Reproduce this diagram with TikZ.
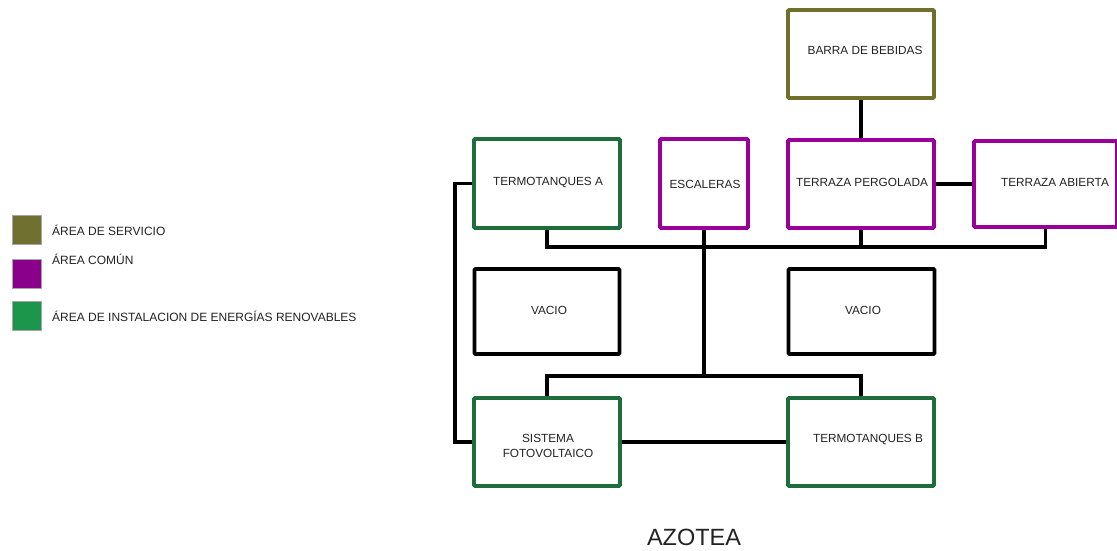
\documentclass[tikz,border=0pt]{standalone}
\usepackage{fontspec}
\setmainfont{Liberation Sans}
\definecolor{olivebox}{RGB}{112,112,45}
\definecolor{purplebox}{RGB}{153,0,153}
\definecolor{greenbox}{RGB}{30,110,60}
\definecolor{legolive}{RGB}{112,112,48}
\definecolor{legpurple}{RGB}{139,0,139}
\definecolor{leggreen}{RGB}{28,150,75}
\definecolor{txt}{RGB}{35,35,35}
\begin{document}
\begin{tikzpicture}[x=1pt,y=-1pt,
  area/.style={draw, line width=3.6pt, fill=white, inner sep=0pt, rounded corners=1pt},
  srv/.style={area, draw=olivebox},
  com/.style={area, draw=purplebox},
  ren/.style={area, draw=greenbox},
  vac/.style={area, draw=black},
  lbl/.style={text=txt, font=\fontsize{11.8}{14}\selectfont, align=center, inner sep=0pt},
  leg/.style={draw=gray!70, line width=0.6pt, minimum width=29pt, minimum height=29pt, inner sep=0pt},
  legtxt/.style={text=txt, font=\fontsize{12}{14}\selectfont, anchor=west, inner sep=0pt},
  link/.style={line width=3.6pt, draw=black}
]
\useasboundingbox (0,0) rectangle (1117,550);
\fill[white] (0,0) rectangle (1117,550);

% legend
\node[leg, fill=legolive] (l1) at (26.5,230) {};
\node[leg, fill=legpurple] (l2) at (26.5,273.5) {};
\node[leg, fill=leggreen] (l3) at (26.5,316) {};
\node[legtxt] (t1) at (52,230) {ÁREA DE SERVICIO};
\node[legtxt] (t2) at (52,259) {ÁREA COMÚN};
\node[legtxt] (t3) at (52,316) {ÁREA DE INSTALACION DE ENERGÍAS RENOVABLES};

% boxes
\node[srv, minimum width=146pt, minimum height=88pt] (bb) at (861,54) {};
\node[ren, minimum width=146pt, minimum height=89pt] (ta) at (547,183.5) {};
\node[com, minimum width=88pt, minimum height=89pt] (esc) at (704,183.5) {};
\node[com, minimum width=146pt, minimum height=88pt] (tp) at (861,184) {};
\node[com, minimum width=143pt, minimum height=86pt] (tab) at (1045.5,184) {};
\node[vac, minimum width=145pt, minimum height=85pt] (v1) at (547,311.5) {};
\node[vac, minimum width=146pt, minimum height=85pt] (v2) at (861.5,311.5) {};
\node[ren, minimum width=146pt, minimum height=88pt] (sf) at (547,442) {};
\node[ren, minimum width=146pt, minimum height=88pt] (tb) at (861,442) {};

% labels
\node[lbl] (bbt) at (865,50) {BARRA DE BEBIDAS};
\node[lbl] (tat) at (548,182) {TERMOTANQUES A};
\node[lbl] (esct) at (705,184) {ESCALERAS};
\node[lbl] (tpt) at (862,182) {TERRAZA PERGOLADA};
\node[lbl] (tabt) at (1055,182) {TERRAZA ABIERTA};
\node[lbl] (v1t) at (549,310) {VACIO};
\node[lbl] (v2t) at (863,310) {VACIO};
\node[lbl, font=\fontsize{11.8}{14.5}\selectfont] (sft) at (548,446) {SISTEMA\\FOTOVOLTAICO};
\node[lbl] (tbt) at (868,439) {TERMOTANQUES B};

% connector junctions
\coordinate (bus) at (0,247);
\coordinate (low) at (0,376);
\coordinate (loopx) at (455,0);

% connectors
\draw[link] (bb.south) -- (bb.south |- tp.north);
\draw[link] (tp.east) -- (tab.west);
\draw[link] (ta.south) -- (ta.south |- bus) -- (tab.south |- bus) -- (tab.south);
\draw[link] (tp.south) -- (tp.south |- bus);
\draw[link] (esc.south) -- (esc.south |- low);
\draw[link] (sf.north) -- (sf.north |- low) -- (tb.north |- low) -- (tb.north);
\draw[link] (ta.west) -- (ta.west -| loopx) -- (sf.west -| loopx) -- (sf.west);
\draw[link] (sf.east) -- (tb.west);

% title
\node[text=txt, font=\fontsize{23.5}{26}\selectfont, inner sep=0pt] (title) at (694,537) {AZOTEA};
\end{tikzpicture}
\end{document}
